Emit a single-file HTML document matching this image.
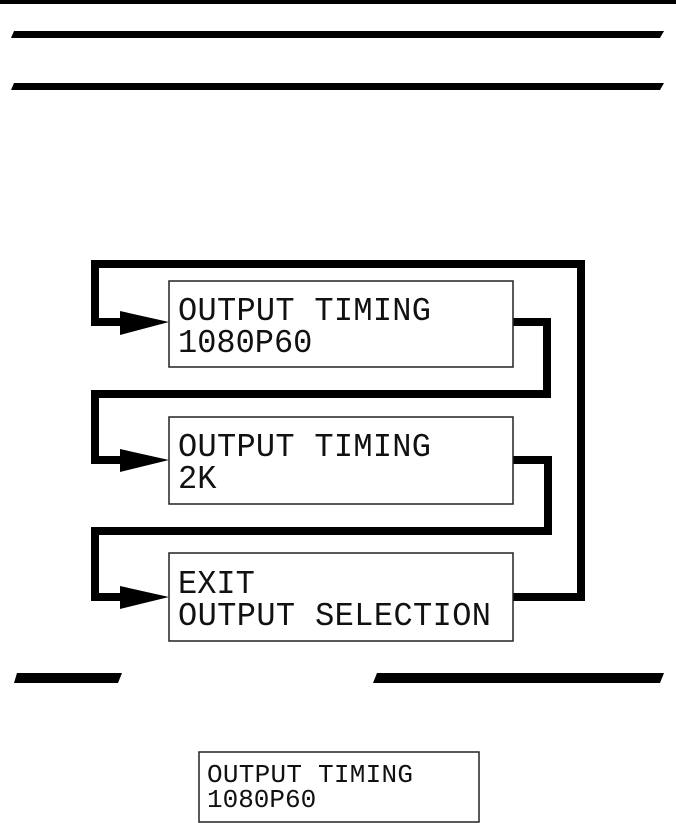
<!DOCTYPE html>
<html><head><meta charset="utf-8"><style>
html,body{margin:0;padding:0;background:#fff;}
svg{display:block;}
text{font-family:"Liberation Mono",monospace;fill:#111;}
</style></head><body>
<svg width="676" height="823" viewBox="0 0 676 823" xmlns="http://www.w3.org/2000/svg">
<rect x="0" y="0" width="676" height="4" fill="#000"/>
<polygon points="14,31 664,31 660,38 11,38" fill="#000"/>
<polygon points="14,83 664,83 660,90 11,90" fill="#000"/>
<!-- connectors -->
<g fill="none" stroke="#000" stroke-width="8" stroke-linejoin="miter">
<polyline points="513,597 581,597 581,264 95,264 95,322 125,322"/>
<polyline points="513,322 547,322 547,394 95,394 95,460 125,460"/>
<polyline points="513,460 548,460 548,531 95,531 95,597 125,597"/>
</g>
<polygon points="120,311 169,322 120,335" fill="#000"/>
<polygon points="120,449 169,460 120,472" fill="#000"/>
<polygon points="120,586 169,597 120,609" fill="#000"/>
<!-- boxes -->
<g fill="#fff" stroke="#222" stroke-width="1.5">
<rect x="169" y="281" width="344" height="86"/>
<rect x="169" y="417" width="344" height="87"/>
<rect x="169" y="553" width="344" height="88"/>
<rect x="199" y="752" width="280" height="70"/>
</g>
<g font-size="32" transform="scale(1,1.04)">
<text x="178" y="307.7" textLength="253">OUTPUT TIMING</text>
<text x="178" y="338.5">1080P60</text>
<text x="178" y="438.5" textLength="253">OUTPUT TIMING</text>
<text x="178" y="469.2">2K</text>
<text x="178" y="570" >EXIT</text>
<text x="178" y="600.8" textLength="313">OUTPUT SELECTION</text>
</g>
<polygon points="17,673 122,673 118,683 14,683" fill="#000"/>
<polygon points="377,673 664,673 660,683 373,683" fill="#000"/>
<g font-size="26">
<text x="207" y="782" textLength="206">OUTPUT TIMING</text>
<text x="207" y="807">1080P60</text>
</g>
</svg>
</body></html>
